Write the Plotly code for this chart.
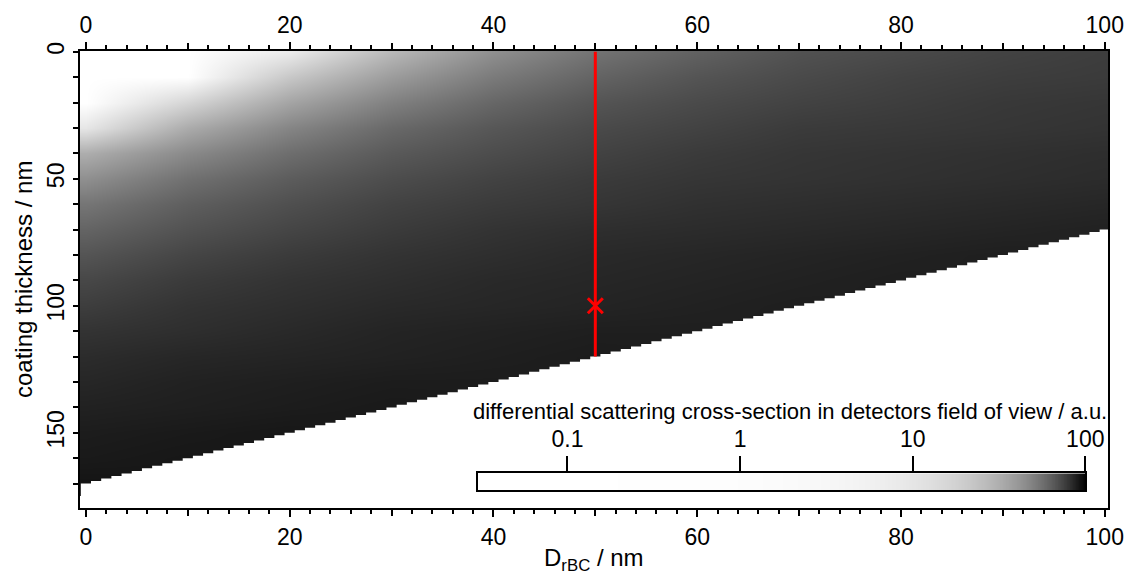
import numpy as np
import plotly.graph_objects as go

# Core diameter (x) and coating thickness (y) grid, nm
d_rbc = [0, 10, 20, 30, 40, 50, 60, 70, 80, 90, 100]
coating = [0, 10, 20, 30, 40, 50, 60, 70, 80, 90, 100, 110, 120, 130, 140, 150, 160, 170]

# Differential scattering cross-section in the detector's field of view (a.u.),
# one row per coating thickness; None where D_rBC + coating is outside the calculated range
N = None
sigma_rows = [
    [0, 0, 8, 28, 44, 55, 62, 68, 71, 74, 76],
    [0, 0, 22, 39, 52, 61, 67, 71, 74, 76, 77],
    [0, 17, 36, 50, 60, 67, 71, 74, 76, 78, 79],
    [10, 33, 48, 59, 66, 71, 74, 77, 78, 79, 80],
    [32, 46, 57, 65, 70, 74, 77, 79, 80, 81, 82],
    [44, 56, 64, 70, 74, 77, 79, 80, 81, 82, 83],
    [54, 63, 69, 74, 77, 79, 81, 82, 83, 84, 85],
    [61, 68, 73, 77, 80, 82, 83, 84, 85, 86, 87],
    [67, 73, 77, 80, 82, 84, 85, 86, 87, 88, N],
    [72, 77, 80, 82, 84, 85, 86, 87, 88, N, N],
    [76, 80, 82, 84, 85, 86, 87, 88, N, N, N],
    [80, 82, 84, 86, 87, 88, 88, N, N, N, N],
    [83, 85, 86, 87, 88, 89, N, N, N, N, N],
    [85, 87, 88, 89, 89, N, N, N, N, N, N],
    [87, 88, 89, 90, N, N, N, N, N, N, N],
    [89, 90, 91, N, N, N, N, N, N, N, N],
    [90, 91, N, N, N, N, N, N, N, N, N],
    [92, N, N, N, N, N, N, N, N, N, N],
]

max_total = 170          # largest D_rBC + coating thickness in the calculation
selected_d = 50          # highlighted core diameter
selected_coating = 100   # highlighted coating thickness

x_label_vals = [0, 20, 40, 60, 80, 100]
x_label_text = ["0", "20", "40", "60", "80", "100"]
x_mid_vals = [10, 30, 50, 70, 90]
y_label_vals = [0, 50, 100, 150]
y_label_text = ["0", "50", "100", "150"]

cbar_min, cbar_max = 0.0302, 100.0
cbar_tickvals = [0.1, 1, 10, 100]
cbar_ticktext = ["0.1", "1", "10", "100"]

FONT = "Liberation Sans, Arial, sans-serif"
gray_scale = [[0.0, "#ffffff"], [1.0, "#000000"]]

fig = go.Figure()

# cross-section map
fig.add_trace(go.Heatmap(
    x=d_rbc, y=coating, z=sigma_rows,
    colorscale=gray_scale, zmin=0, zmax=100,
    zsmooth="best", showscale=False, hoverinfo="skip",
))

# region beyond the calculated size range (stepped at 1 nm columns)
cols = np.arange(0, 101)
edge_x = list(cols - 0.5) + [100.5, 100.5, -0.5]
edge_y = list(max_total - cols) + [max_total - 100, 190, 190]
fig.add_trace(go.Scatter(
    x=edge_x, y=edge_y, mode="lines", line=dict(width=0, shape="hv"),
    fill="toself", fillcolor="white", hoverinfo="skip", showlegend=False,
))

# highlighted cut through the map
fig.add_trace(go.Scatter(
    x=[selected_d, selected_d], y=[0, max_total - selected_d],
    mode="lines", line=dict(color="#ff0000", width=3),
    hoverinfo="skip", showlegend=False,
))
fig.add_trace(go.Scatter(
    x=[selected_d], y=[selected_coating], mode="markers",
    marker=dict(symbol="x-thin", size=15, line=dict(color="#ff0000", width=3)),
    hoverinfo="skip", showlegend=False,
))

# colour bar drawn on a logarithmic value axis
cb_log = np.linspace(np.log10(cbar_min), np.log10(cbar_max), 400)
cb_vals = 10 ** cb_log
fig.add_trace(go.Heatmap(
    x=cb_log, y=[0, 1], z=[cb_vals, cb_vals],
    colorscale=gray_scale, zmin=0, zmax=100, zsmooth="best",
    showscale=False, hoverinfo="skip", xaxis="x2", yaxis="y2",
))

# empty traces so the extra tick axes are drawn
for ax in ("x3", "x4", "x5"):
    fig.add_trace(go.Scatter(x=[], y=[], xaxis=ax, yaxis="y", showlegend=False))

x_range = [-0.58, 100.32]
axis_common = dict(
    showgrid=False, zeroline=False, showline=True, linecolor="black", linewidth=2,
    ticks="outside", tickcolor="black", tickwidth=1.5,
    tickfont=dict(family=FONT, size=23, color="black"),
)
x_minor = dict(ticks="outside", dtick=2, tick0=0, ticklen=4, tickwidth=1.5,
               tickcolor="black", showgrid=False)
mid_ticks = dict(overlaying="x", anchor="y", range=x_range, tickmode="array",
                 tickvals=x_mid_vals, ticks="outside", ticklen=7, tickwidth=1.5,
                 tickcolor="black", showticklabels=False, showline=False,
                 showgrid=False, zeroline=False)

fig.update_layout(
    width=1139, height=575,
    margin=dict(l=80, r=20, t=46, b=67),
    paper_bgcolor="white", plot_bgcolor="white",
    font=dict(family=FONT, color="black"),
    showlegend=False,
    xaxis=dict(domain=[0, 1], anchor="y", range=x_range, tickmode="array",
               tickvals=x_label_vals, ticktext=x_label_text, ticklen=7, mirror=True,
               minor=x_minor, **axis_common),
    xaxis3=dict(overlaying="x", side="top", anchor="y", range=x_range,
                tickmode="array", tickvals=x_label_vals, ticktext=x_label_text,
                ticklen=7, minor=x_minor, **axis_common),
    xaxis4=dict(side="bottom", **mid_ticks),
    xaxis5=dict(side="top", **mid_ticks),
    yaxis=dict(domain=[0, 1], anchor="x", range=[179.6, -0.3], tickmode="array",
               tickvals=y_label_vals, ticktext=y_label_text, ticklen=5, tickangle=-90,
               mirror=True,
               minor=dict(ticks="outside", dtick=10, tick0=0, ticklen=5,
                          tickwidth=1.5, tickcolor="black", showgrid=False),
               **axis_common),
    xaxis2=dict(domain=[0.3869, 0.9779], anchor="y2", side="top",
                range=[np.log10(cbar_min), np.log10(cbar_max)], tickmode="array",
                tickvals=list(np.log10(cbar_tickvals)), ticktext=cbar_ticktext,
                ticklen=15, mirror=True, **axis_common),
    yaxis2=dict(domain=[0.039, 0.0758], anchor="x2", range=[0, 1],
                showgrid=False, zeroline=False, showline=True, linecolor="black",
                linewidth=2, mirror=True, ticks="", showticklabels=False),
    annotations=[
        dict(text="coating thickness / nm", xref="paper", yref="paper",
             x=-0.0549, y=0.5, xanchor="center", yanchor="middle", textangle=-90,
             showarrow=False, font=dict(family=FONT, size=24, color="black")),
        dict(text="D<sub>rBC</sub> / nm", xref="paper", yref="paper",
             x=0.5, y=-0.113, xanchor="center", yanchor="middle",
             showarrow=False, font=dict(family=FONT, size=24, color="black")),
        dict(text="differential scattering cross-section in detectors field of view / a.u.",
             xref="paper", yref="paper", x=1.001, y=0.212, xanchor="right",
             yanchor="middle", showarrow=False,
             font=dict(family=FONT, size=22, color="black")),
    ],
)

fig.write_html("out.html")
